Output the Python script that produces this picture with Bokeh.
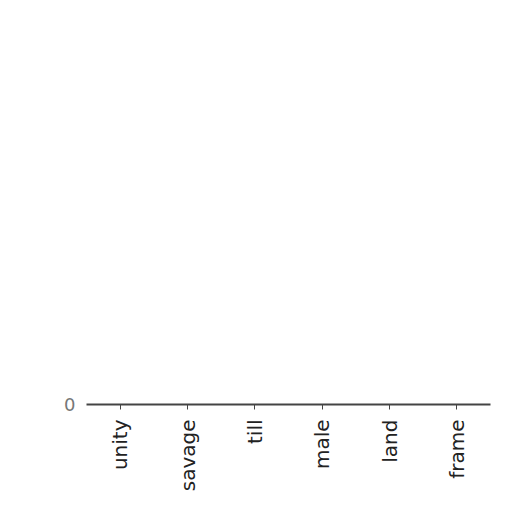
import math
from bokeh.plotting import figure
from bokeh.models import Range1d, FixedTicker, ColumnDataSource
from bokeh.embed import file_html
from bokeh.resources import INLINE

categories = ["unity", "savage", "till", "male", "land", "frame"]
values = [0, 0, 0, 0, 0, 0]
y_ticks = [0]

source = ColumnDataSource(data=dict(cat=categories, val=values))

p = figure(x_range=categories, y_range=Range1d(0, 1),
           width=496, height=496, output_backend="svg", toolbar_location=None,
           min_border_left=86, min_border_right=6, min_border_bottom=92, min_border_top=10)

p.vbar(x="cat", top="val", width=0.8, source=source, color="#1f77b4")

p.outline_line_color = None
p.xgrid.grid_line_color = None
p.ygrid.grid_line_color = None

p.yaxis.ticker = FixedTicker(ticks=y_ticks)
p.yaxis.axis_line_color = None
p.yaxis.major_tick_line_color = None
p.yaxis.minor_tick_line_color = None
p.yaxis.major_label_text_font = "DejaVu Sans"
p.yaxis.major_label_text_font_size = "18px"
p.yaxis.major_label_text_color = "#777777"

p.xaxis.major_label_orientation = math.pi / 2
p.xaxis.major_label_standoff = 10
p.xaxis.major_label_text_font = "DejaVu Sans"
p.xaxis.major_label_text_font_size = "20px"
p.xaxis.major_label_text_color = "#222222"
p.xaxis.axis_line_color = "#444444"
p.xaxis.axis_line_width = 2
p.xaxis.major_tick_line_color = "#444444"
p.xaxis.major_tick_in = 0
p.xaxis.major_tick_out = 5

open("out.html", "w").write(file_html(p, INLINE))
